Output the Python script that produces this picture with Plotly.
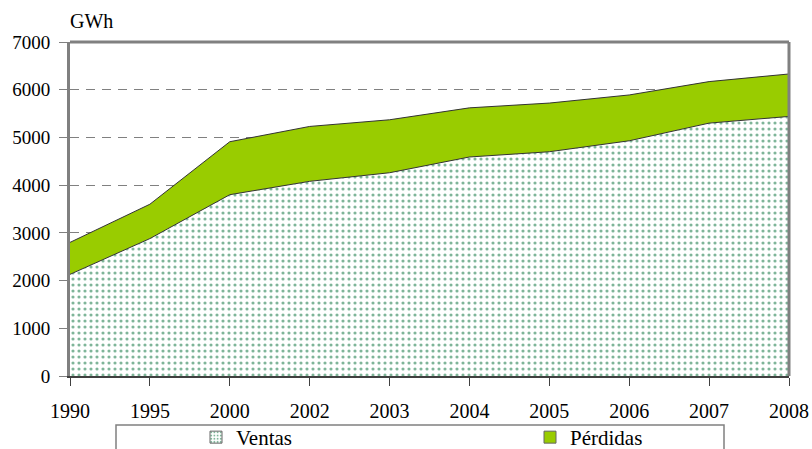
import plotly.graph_objects as go

years = ["1990", "1995", "2000", "2002", "2003", "2004", "2005", "2006", "2007", "2008"]
ventas = [2130, 2880, 3800, 4080, 4260, 4590, 4700, 4930, 5300, 5440]
perdidas = [670, 720, 1110, 1150, 1110, 1030, 1020, 960, 870, 890]
y_ticks = [0, 1000, 2000, 3000, 4000, 5000, 6000, 7000]

FONT = "'Liberation Serif', 'DejaVu Serif', serif"
totals = [v + p for v, p in zip(ventas, perdidas)]

W, H = 812, 449
PL, PR, PT, PB = 70, 789, 42, 376  # plot area in screen pixels

VENTAS_PATTERN = dict(shape=".", fgcolor="#006b33", bgcolor="white", size=6, solidity=0.22)

fig = go.Figure()
fig.add_trace(go.Scatter(
    x=years, y=ventas, name="Ventas", mode="lines", stackgroup="one",
    line=dict(color="#333333", width=0), showlegend=False,
    fillcolor="white", fillpattern=VENTAS_PATTERN,
))
fig.add_trace(go.Scatter(
    x=years, y=perdidas, name="Pérdidas", mode="lines", stackgroup="one",
    line=dict(color="#333333", width=0), showlegend=False,
    fillcolor="#99cc00",
))
fig.add_trace(go.Scatter(x=years, y=ventas, mode="lines", showlegend=False,
                         line=dict(color="#333333", width=1), hoverinfo="skip"))
fig.add_trace(go.Scatter(x=years, y=totals, mode="lines", showlegend=False,
                         line=dict(color="#333333", width=1), hoverinfo="skip"))
# legend entries (square swatches)
fig.add_trace(go.Bar(x=[None], y=[None], name="Ventas",
                     marker=dict(color="white", pattern=dict(shape=".", fgcolor="#006b33",
                                                             bgcolor="white", size=4, solidity=0.3),
                                 line=dict(color="#666666", width=1))))
fig.add_trace(go.Bar(x=[None], y=[None], name="Pérdidas",
                     marker=dict(color="#99cc00", line=dict(color="#666666", width=1))))

ph = PB - PT
fig.update_layout(
    width=W, height=H,
    margin=dict(l=PL, r=W - PR, t=PT, b=H - PB),
    paper_bgcolor="white", plot_bgcolor="white",
    font=dict(family=FONT, size=18, color="black"),
    showlegend=True,
    legend=dict(
        orientation="h", xref="container", yref="container",
        x=196 / W, xanchor="left", y=1 - 417 / H, yanchor="top",
        bgcolor="rgba(0,0,0,0)", borderwidth=0,
        font=dict(family=FONT, size=21, color="black"),
        entrywidth=289, entrywidthmode="pixels",
        traceorder="normal",
    ),
    xaxis=dict(
        type="category", range=[0, 9],
        showgrid=False, showline=True, linecolor="#404040", linewidth=2,
        ticks="outside", ticklen=8, tickcolor="#404040", tickwidth=1,
        tickfont=dict(family=FONT, size=20, color="black"),
        ticklabelstandoff=8,
        zeroline=False, automargin=False,
    ),
    yaxis=dict(
        range=[0, 7000], tickvals=y_ticks,
        showgrid=True, gridcolor="#808080", gridwidth=1, griddash="9px,7px",
        showline=True, linecolor="#808080", linewidth=3,
        ticks="outside", ticklen=8, tickcolor="#808080", tickwidth=1,
        tickfont=dict(family=FONT, size=19, color="black"),
        ticklabelstandoff=5,
        zeroline=False, automargin=False,
    ),
    shapes=[
        dict(type="line", xref="paper", yref="paper", x0=0, x1=1, y0=1, y1=1,
             line=dict(color="#808080", width=3)),
        dict(type="line", xref="paper", yref="paper", x0=1, x1=1, y0=0, y1=1,
             line=dict(color="#808080", width=3)),
        dict(type="rect", xref="paper", yref="paper",
             x0=(116 - PL) / (PR - PL), x1=(724 - PL) / (PR - PL),
             y0=(PB - 470) / ph, y1=(PB - 425) / ph,
             line=dict(color="#808080", width=1.5), fillcolor="rgba(0,0,0,0)"),
    ],
    annotations=[
        dict(text="GWh", xref="paper", yref="paper", x=-0.003, y=1.0, yshift=8,
             xanchor="left", yanchor="bottom", showarrow=False,
             font=dict(family=FONT, size=20, color="black")),
    ],
)

fig.write_html(
    "out.html",
    config={"displayModeBar": False},
    post_script="document.body.style.margin='0';document.body.style.overflow='hidden';",
)
